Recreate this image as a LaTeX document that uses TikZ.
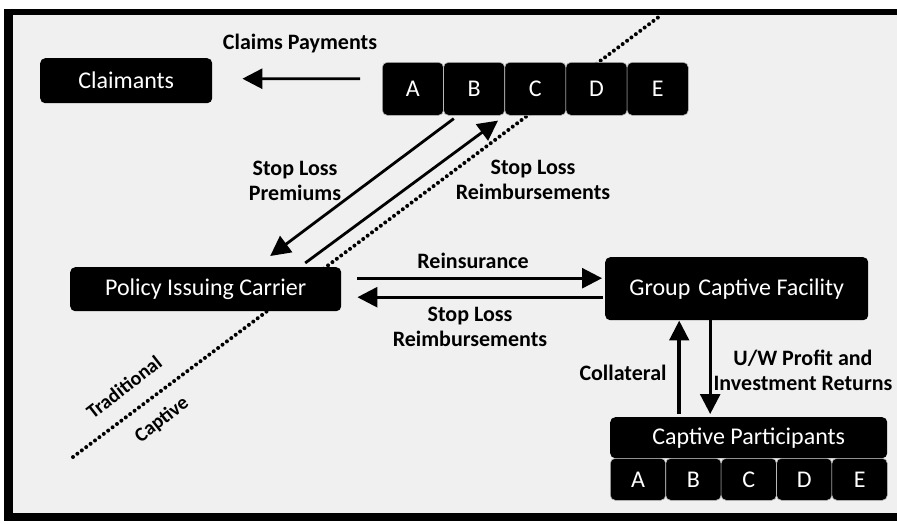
\documentclass[tikz,border=0pt]{standalone}
\usepackage{fontspec}
\setmainfont{Carlito}
\usetikzlibrary{arrows.meta}
\begin{document}
\begin{tikzpicture}[x=1pt,y=-1pt,
  blk/.style={fill=black, text=white, rounded corners=5pt, inner sep=0pt, anchor=north west,
    font=\fontsize{24}{27}\selectfont},
  cell/.style={blk, draw=gray!55, line width=0.6pt},
  lbl/.style={font=\bfseries\fontsize{22}{25}\selectfont, align=center, inner sep=0pt},
  arr/.style={-{Triangle[length=20pt,width=20pt]}, line width=2.8pt},
  thickarr/.style={-{Triangle[length=20pt,width=19pt]}, line width=4.5pt},
  divider/.style={line width=4pt, dash pattern=on 0pt off 5.5pt, line cap=round}]
\useasboundingbox (0,0) rectangle (897,523);
% background and frame
\fill[black!6] (4,9) rectangle (897,521);
\fill[black] (4,9) rectangle (897,15);
\fill[black] (4,9) rectangle (13,521);
\fill[black] (4,513) rectangle (897,521);
% dividing dotted line
\coordinate (dl1) at (73,457);
\coordinate (dl2) at (660,16);
\draw[divider] (dl1) -- (dl2);
% nodes
\node[blk, minimum width=172pt, minimum height=45pt] (claim) at (40,58) {Claimants};
\foreach \l [count=\i from 0] in {A,B,C,D,E}
  \node[cell, minimum width=61.2pt, minimum height=53pt] (t\l) at ({382+61.2*\i},62) {\l};
\node[blk, minimum width=271pt, minimum height=44pt] (policy) at (70,267) {Policy Issuing Carrier};
\node[blk, minimum width=263pt, minimum height=63pt] (group) at (605,257) {Group\,\,Captive Facility};
\node[blk, minimum width=277pt, minimum height=41pt] (cp) at (610,417) {Captive Participants};
\foreach \l [count=\i from 0] in {A,B,C,D,E}
  \node[cell, minimum width=55.4pt, minimum height=42pt] (b\l) at ({610+55.4*\i},458) {\l};
% connectors
\draw[arr] ([xshift=-22pt,yshift=10pt]tA.west) -- ([xshift=30pt,yshift=2pt]claim.east);
\draw[arr] ([xshift=10pt,yshift=-3pt]tA.south east) -- ([xshift=64.5pt,yshift=11pt]policy.north);
\draw[arr] ([xshift=99.5pt,yshift=4pt]policy.north) -- ([xshift=-7pt,yshift=-5pt]tB.south east);
\draw[arr] ([xshift=16pt,yshift=11pt]policy.east) -- ([xshift=-3pt,yshift=10.5pt]group.west);
\draw[arr] ([xshift=-2pt,yshift=-8.5pt]group.west) -- ([xshift=16pt,yshift=-8pt]policy.east);
\draw[thickarr] ([xshift=-69.5pt,yshift=3pt]cp.north) -- ([xshift=-57.5pt]group.south);
\draw[arr] ([xshift=-26.5pt]group.south) -- ([xshift=-38.5pt,yshift=3pt]cp.north);
% labels
\node[lbl] (lcp) at (300,44) {Claims Payments};
\node[lbl] (lslp) at (295,181) {Stop Loss\\Premiums};
\node[lbl] (lslr) at (533,180) {Stop Loss\\Reimbursements};
\node[lbl] (lre) at (473,261) {Reinsurance};
\node[lbl] (lslr2) at (470,327) {Stop Loss\\Reimbursements};
\node[lbl] (lcol) at (623,373) {Collateral};
\node[lbl] (luw) at (803,370) {U/W Profit and\\Investment Returns};
\node[lbl, rotate=38, font=\bfseries\fontsize{20}{22}\selectfont] (ltr) at (124,387) {Traditional};
\node[lbl, rotate=38, font=\bfseries\fontsize{20}{22}\selectfont] (lca) at (162,420) {Captive};
\end{tikzpicture}
\end{document}
